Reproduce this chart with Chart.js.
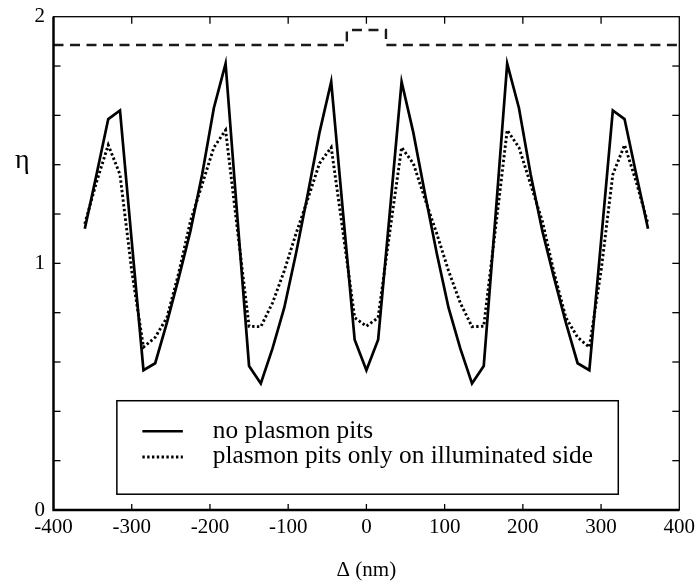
<!DOCTYPE html>
<html>
<head>
<meta charset="utf-8">
<script src="https://cdn.jsdelivr.net/npm/chart.js@4/dist/chart.umd.min.js"></script>
<style>
  html, body { margin: 0; padding: 0; background: #fff; }
  canvas { display: block; }
</style>
</head>
<body>
<canvas id="c" width="696" height="585"></canvas>
<script>
// ---- data ----
const deltaNm = [-360,-345,-330,-315,-300,-285,-270,-255,-240,-225,-210,-195,-180,-165,-150,-135,-120,-105,-90,-75,-60,-45,-30,-15,0,
                 15,30,45,60,75,90,105,120,135,150,165,180,195,210,225,240,255,270,285,300,315,330,345,360];
const etaNoPits = [1.14,1.36,1.585,1.62,1.09,0.567,0.595,0.76,0.94,1.13,1.36,1.63,1.81,1.19,0.584,0.513,0.655,0.82,1.04,1.28,1.53,1.736,1.21,0.69,0.567,
                   0.69,1.21,1.736,1.53,1.28,1.04,0.82,0.655,0.513,0.584,1.19,1.81,1.63,1.36,1.13,0.94,0.76,0.595,0.567,1.09,1.62,1.585,1.36,1.14];
const etaPitsIlluminated = [1.16,1.33,1.48,1.36,0.97,0.66,0.70,0.78,0.96,1.17,1.32,1.47,1.54,1.14,0.745,0.743,0.84,0.97,1.12,1.26,1.405,1.47,1.13,0.78,0.745,
                            0.78,1.13,1.47,1.405,1.26,1.12,0.97,0.84,0.743,0.745,1.14,1.54,1.47,1.32,1.17,0.96,0.78,0.70,0.66,0.97,1.36,1.48,1.33,1.16];
const refX = [-400,-25,-25,25,25,400];
const refY = [1.885,1.885,1.946,1.946,1.885,1.885];
const xTickLabels = ['-400','-300','-200','-100','0','100','200','300','400'];
const yTickLabels = ['0','1','2'];
const seriesLabels = ['no plasmon pits','plasmon pits only on illuminated side'];

const FONT = "'Liberation Serif', 'Times New Roman', serif";

const toPts = (xs, ys) => xs.map((x, i) => ({x: x, y: ys[i]}));

const frameTicks = {
  id: 'frameTicks',
  afterDraw(chart) {
    const {ctx, chartArea: a, scales: {x, y}} = chart;
    const line = (x1, y1, x2, y2) => { ctx.beginPath(); ctx.moveTo(x1, y1); ctx.lineTo(x2, y2); ctx.stroke(); };
    ctx.save();
    ctx.strokeStyle = '#000';
    ctx.lineWidth = 1.3;
    ctx.strokeRect(a.left, a.top, a.right - a.left, a.bottom - a.top);
    ctx.lineWidth = 2.4;
    ctx.beginPath(); ctx.moveTo(a.left, a.top); ctx.lineTo(a.left, a.bottom); ctx.lineTo(a.right, a.bottom); ctx.stroke();
    ctx.lineWidth = 1.3;
    y.ticks.forEach(t => {
      if (t.value <= y.min + 1e-9 || t.value >= y.max - 1e-9) return;
      const py = y.getPixelForValue(t.value);
      line(a.left, py, a.left + 7, py);
      line(a.right, py, a.right - 7, py);
    });
    x.ticks.forEach(t => {
      if (t.value <= x.min || t.value >= x.max) return;
      const px = x.getPixelForValue(t.value);
      line(px, a.bottom, px, a.bottom - 6);
      line(px, a.top, px, a.top + 7);
    });
    // y-axis symbol (unrotated)
    ctx.fillStyle = '#000';
    ctx.font = '28px ' + FONT;
    ctx.textAlign = 'left';
    ctx.textBaseline = 'alphabetic';
    ctx.fillText('η', 15, 168);
    ctx.restore();
  }
};

const boxLegend = {
  id: 'boxLegend',
  afterDraw(chart) {
    const {ctx, scales: {x, y}} = chart;
    const L = x.getPixelForValue(-319), R = x.getPixelForValue(322);
    const T = y.getPixelForValue(0.443), B = y.getPixelForValue(0.064);
    ctx.save();
    ctx.fillStyle = '#fff';
    ctx.fillRect(L, T, R - L, B - T);
    ctx.strokeStyle = '#000';
    ctx.lineWidth = 1.5;
    ctx.strokeRect(L, T, R - L, B - T);
    const items = chart.data.datasets.filter(d => d.label);
    items.forEach((d, i) => {
      const ly = T + 30.5 + i * 25.7;
      ctx.strokeStyle = d.borderColor;
      ctx.lineWidth = d.borderWidth;
      ctx.setLineDash(d.borderDash || []);
      ctx.beginPath(); ctx.moveTo(L + 25.5, ly); ctx.lineTo(L + 66, ly); ctx.stroke();
      ctx.setLineDash([]);
      ctx.fillStyle = '#000';
      ctx.font = '25.3px ' + FONT;
      ctx.textAlign = 'left';
      ctx.textBaseline = 'alphabetic';
      ctx.fillText(d.label, L + 96, ly + 6.5);
    });
    ctx.restore();
  }
};

new Chart(document.getElementById('c'), {
  type: 'line',
  data: {
    datasets: [
      { label: seriesLabels[0], data: toPts(deltaNm, etaNoPits), borderColor: '#000', borderWidth: 2.7,
        pointRadius: 0, tension: 0, fill: false },
      { label: seriesLabels[1], data: toPts(deltaNm, etaPitsIlluminated), borderColor: '#000', borderWidth: 2.9,
        borderDash: [2.4, 2.4], borderCapStyle: 'butt', pointRadius: 0, tension: 0, fill: false },
      { label: '', data: toPts(refX, refY), borderColor: '#1a1a1a', borderWidth: 2.4,
        borderDash: [10, 6.5], pointRadius: 0, tension: 0, fill: false }
    ]
  },
  options: {
    responsive: false,
    animation: false,
    devicePixelRatio: 1,
    layout: { padding: { left: 0, right: 16.7, top: 16.7, bottom: 0 } },
    plugins: { legend: { display: false }, tooltip: { enabled: false } },
    scales: {
      x: {
        type: 'linear', min: -400, max: 400,
        afterFit(s) { s.height = 75; s.paddingLeft = 0; s.paddingRight = 0; },
        grid: { display: false, drawTicks: false },
        border: { display: false },
        ticks: {
          stepSize: 100, padding: 5, color: '#000', maxRotation: 0, autoSkip: false,
          font: { family: FONT, size: 21 },
          callback: (v) => { const i = Math.round((v + 400) / 100); return xTickLabels[i] !== undefined ? xTickLabels[i] : ''; }
        },
        title: { display: true, text: 'Δ (nm)', color: '#000', font: { family: FONT, size: 21 }, padding: { top: 0, bottom: 2 } }
      },
      y: {
        type: 'linear', min: 0, max: 2,
        afterFit(s) { s.width = 53.5; s.paddingTop = 0; s.paddingBottom = 0; },
        grid: { display: false, drawTicks: false },
        border: { display: false },
        ticks: {
          stepSize: 0.2, padding: 8.5, color: '#000', autoSkip: false,
          font: { family: FONT, size: 21 },
          callback: (v) => { const r = Math.round(v); return Math.abs(v - r) < 1e-6 ? yTickLabels[r] : ''; }
        }
      }
    }
  },
  plugins: [frameTicks, boxLegend]
});
</script>
</body>
</html>
